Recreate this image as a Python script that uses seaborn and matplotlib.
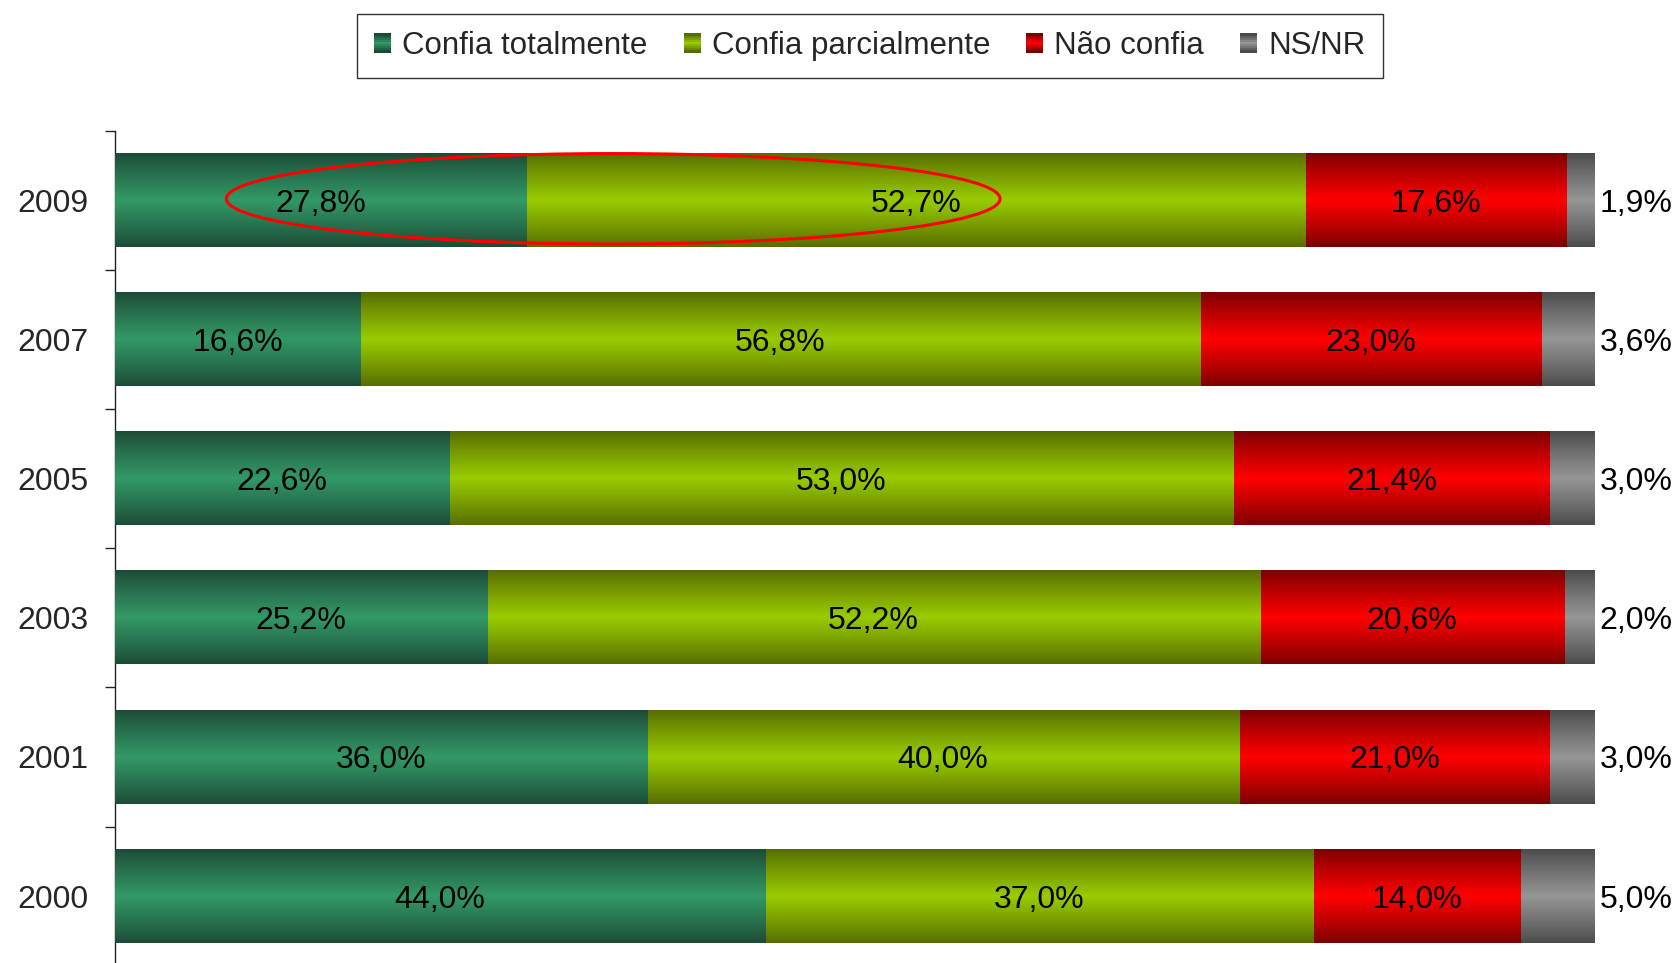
import numpy as np
import matplotlib
matplotlib.use("Agg")
import matplotlib.pyplot as plt
import seaborn as sns
from matplotlib.patches import Ellipse, Patch, Rectangle
from matplotlib.legend_handler import HandlerBase
from matplotlib.colors import to_rgb

# ---------------- data ----------------
years = ["2009", "2007", "2005", "2003", "2001", "2000"]
confia_total = [27.8, 16.6, 22.6, 25.2, 36.0, 44.0]
confia_parcial = [52.7, 56.8, 53.0, 52.2, 40.0, 37.0]
nao_confia = [17.6, 23.0, 21.4, 20.6, 21.0, 14.0]
ns_nr = [1.9, 3.6, 3.0, 2.0, 3.0, 5.0]
series_names = ["Confia totalmente", "Confia parcialmente", "Não confia", "NS/NR"]

# ---------------- style ----------------
sns.set_style("white")
plt.rcParams["font.family"] = ["Liberation Sans", "DejaVu Sans"]

# (edge colour, centre colour) for each series gradient
grads = [
    ("#1c4a36", "#339966"),
    ("#566b00", "#99cc00"),
    ("#7a0000", "#ff0000"),
    ("#4a4a4a", "#969696"),
]

def grad_array(edge, center, n=256):
    e = np.array(to_rgb(edge)); c = np.array(to_rgb(center))
    t = 1 - np.abs(np.linspace(-1, 1, n))
    t = t ** 0.9
    arr = e[None, :] * (1 - t[:, None]) + c[None, :] * t[:, None]
    return np.repeat(arr[:, None, :], 2, axis=1)

fig = plt.figure(figsize=(16.79, 9.63), dpi=100)
ax = fig.add_axes([0.0683, -0.0029, 0.8811, 0.8673])

series = [confia_total, confia_parcial, nao_confia, ns_nr]
cum = np.cumsum(np.array(series), axis=0)

# draw from the full stack down to the first series so later ones overlap
bar_w = 0.67
for k in range(3, -1, -1):
    n_before = len(ax.patches)
    sns.barplot(x=list(cum[k]), y=years, order=years, orient="h",
                color=grads[k][1], width=bar_w, errorbar=None, ax=ax,
                linewidth=0)
    img = grad_array(*grads[k])
    for p in ax.patches[n_before:]:
        x0, y0 = p.get_x(), p.get_y()
        w, h = p.get_width(), p.get_height()
        p.set_facecolor("none")
        p.set_edgecolor("none")
        ax.imshow(img, extent=(x0, x0 + w, y0 + h, y0), aspect="auto",
                  interpolation="bilinear", zorder=2 + (3 - k))

# value labels
def fmt(v):
    return f"{v:.1f}%".replace(".", ",")

for i, yr in enumerate(years):
    start = 0.0
    for k in range(3):
        v = series[k][i]
        ax.text(start + v / 2, i, fmt(v), ha="center", va="center_baseline",
                fontsize=23, color="black", zorder=20)
        start += v
    ax.annotate(fmt(ns_nr[i]), xy=(100, i), xytext=(4, 0),
                textcoords="offset points", ha="left", va="center_baseline",
                fontsize=23, color="black", annotation_clip=False, zorder=20)

# highlight ellipse on 2009
ax.add_patch(Ellipse((33.7, -0.01), 52.3, 0.65, fill=False, ec="#ff0000",
                     lw=2.2, zorder=25))

# axes styling
ax.set_xlim(0, 100)
ax.set_ylim(len(years) - 0.5, -0.5)
ax.set_xlabel(""); ax.set_ylabel("")
for s in ["top", "right", "bottom"]:
    ax.spines[s].set_visible(False)
ax.spines["left"].set_color("#222222")
ax.spines["left"].set_linewidth(1.0)
ax.set_xticks([])
ax.set_yticks(range(len(years)))
ax.set_yticklabels(years, fontsize=23)
ax.tick_params(axis="y", which="major", left=True, length=0, pad=19)
ax.set_yticks(np.arange(-0.5, len(years), 1.0), minor=True)
ax.tick_params(axis="y", which="minor", left=True, length=7, width=1,
               color="#222222", direction="out")

# legend with gradient squares
class GradHandler(HandlerBase):
    def __init__(self, edge, center):
        super().__init__()
        self.edge, self.center = edge, center
    def create_artists(self, legend, orig_handle, xdescent, ydescent,
                       width, height, fontsize, trans):
        n = 9
        arr = grad_array(self.edge, self.center, n)[:, 0, :]
        arts = []
        for i in range(n):
            arts.append(Rectangle((-xdescent, -ydescent + i * height / n),
                                  width, height / n + 0.3, fc=arr[i],
                                  ec="none", transform=trans))
        return arts

handles = [Patch(label=n) for n in series_names]
hmap = {h: GradHandler(*g) for h, g in zip(handles, grads)}
leg = fig.legend(handles=handles, labels=series_names, handler_map=hmap,
                 loc="center", bbox_to_anchor=(0.518, 0.952), ncol=4,
                 fontsize=22.5, frameon=True, fancybox=False,
                 edgecolor="#333333", framealpha=1, handlelength=0.55,
                 handleheight=0.55, handletextpad=0.35, columnspacing=1.15,
                 borderpad=0.55, borderaxespad=0)
leg.get_frame().set_linewidth(1.0)

fig.savefig("out.png", dpi=100)
